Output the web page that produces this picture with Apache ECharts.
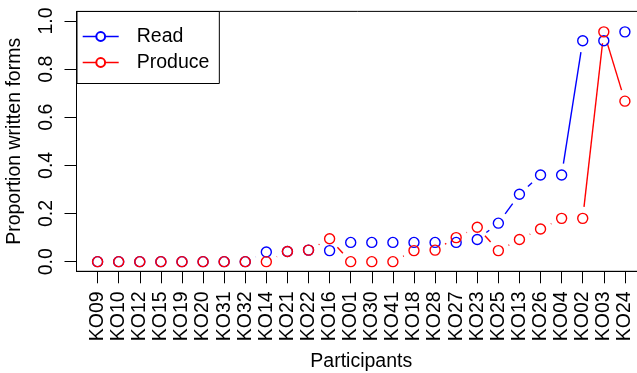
<!DOCTYPE html>
<html>
<head>
<meta charset="utf-8">
<script src="https://cdn.jsdelivr.net/npm/echarts@6/dist/echarts.min.js"></script>
<style>html,body{margin:0;padding:0;background:#fff;}#c{width:637px;height:373px;}</style>
</head>
<body>
<div id="c"></div>
<script>
const categories = ['KO09','KO10','KO12','KO15','KO19','KO20','KO31','KO32','KO14','KO21','KO22','KO16','KO01','KO30','KO41','KO18','KO28','KO27','KO23','KO25','KO13','KO26','KO04','KO02','KO03','KO24'];
const readValues = [0,0,0,0,0,0,0,0,0.04,0.042,0.048,0.046,0.08,0.08,0.08,0.08,0.08,0.08,0.092,0.16,0.28,0.36,0.36,0.918,0.918,0.955];
const produceValues = [0,0,0,0,0,0,0,0,0,0.042,0.048,0.095,0,0,0,0.046,0.048,0.1,0.143,0.046,0.092,0.136,0.18,0.18,0.955,0.667];
const yTicks = [0, 0.2, 0.4, 0.6, 0.8, 1.0];
const seriesNames = ['Read', 'Produce'];

const FONT = 'Liberation Sans';
const FS = 19.5;
const BLUE = '#0000FF', RED = '#FF0000';
const GAP = 11.5;

function pts(vals) { return vals.map((v, i) => [i, v]); }
function segs(vals) {
  const out = [];
  for (let i = 0; i < vals.length - 1; i++) out.push([i, vals[i], i + 1, vals[i + 1]]);
  return out;
}
function segRender(color) {
  return function (params, api) {
    const a = api.coord([api.value(0), api.value(1)]);
    const b = api.coord([api.value(2), api.value(3)]);
    const dx = b[0] - a[0], dy = b[1] - a[1];
    const len = Math.sqrt(dx * dx + dy * dy);
    if (len <= 2 * GAP) return null;
    const ux = dx / len, uy = dy / len;
    return {
      type: 'line',
      shape: { x1: a[0] + ux * GAP, y1: a[1] + uy * GAP, x2: b[0] - ux * GAP, y2: b[1] - uy * GAP },
      style: { stroke: color, lineWidth: 1.4, fill: null }
    };
  };
}
function pointSeries(name, vals, color) {
  return {
    name: name, type: 'line', data: pts(vals),
    symbol: 'circle', symbolSize: 10, showAllSymbol: true,
    itemStyle: { color: 'rgba(0,0,0,0)', borderColor: color, borderWidth: 1.4 },
    lineStyle: { color: color, width: 1.4, opacity: 0 },
    emphasis: { disabled: true }, animation: false
  };
}
function segSeries(vals, color) {
  return {
    type: 'custom', data: segs(vals), renderItem: segRender(color),
    encode: { x: [0, 2], y: [1, 3] }, animation: false, silent: true
  };
}

const chart = echarts.init(document.getElementById('c'), null, { renderer: 'canvas' });
chart.setOption({
  backgroundColor: '#fff',
  animation: false,
  textStyle: { fontFamily: FONT, color: '#000' },
  grid: { left: 76.5, top: 11.4, width: 569.5, height: 259.9, show: true, borderColor: '#000', borderWidth: 1, backgroundColor: 'transparent', outerBoundsMode: 'none', containLabel: false },
  xAxis: {
    type: 'value', min: -1, max: 26,
    name: 'Participants', nameLocation: 'middle', nameGap: 80.5,
    nameTextStyle: { fontFamily: FONT, fontSize: FS, color: '#000' },
    axisLine: { show: true, onZero: false, lineStyle: { color: '#000', width: 1 } },
    axisTick: { show: true, length: 12, lineStyle: { color: '#000', width: 1 }, customValues: categories.map((c, i) => i) },
    axisLabel: { show: true, rotate: 90, margin: 20, fontFamily: FONT, fontSize: FS, color: '#000',
      customValues: categories.map((c, i) => i), formatter: v => categories[Math.round(v)] || '' },
    splitLine: { show: false }
  },
  yAxis: {
    type: 'value', min: -0.04, max: 1.04,
    name: 'Proportion written forms', nameLocation: 'middle', nameGap: 51.5, nameRotate: 90,
    nameTextStyle: { fontFamily: FONT, fontSize: FS, color: '#000' },
    axisLine: { show: true, onZero: false, lineStyle: { color: '#000', width: 1 } },
    axisTick: { show: true, length: 12, lineStyle: { color: '#000', width: 1 }, customValues: yTicks },
    axisLabel: { show: true, rotate: 90, margin: 20, fontFamily: FONT, fontSize: FS, color: '#000',
      customValues: yTicks, formatter: v => v.toFixed(1) },
    splitLine: { show: false }
  },
  legend: {
    data: seriesNames,
    left: 77, top: 11.5, orient: 'vertical',
    itemWidth: 36, itemHeight: 11, itemGap: 6,
    padding: [15, 10, 11, 5],
    borderColor: '#000', borderWidth: 1, backgroundColor: '#fff',
    textStyle: { fontFamily: FONT, fontSize: FS, color: '#000', padding: [0, 0, 0, 13], lineHeight: 17 },
    lineStyle: { opacity: 1, width: 1.4 },
    itemStyle: { color: '#fff' },
    selectedMode: false
  },
  series: [
    segSeries(readValues, BLUE),
    pointSeries(seriesNames[0], readValues, BLUE),
    segSeries(produceValues, RED),
    pointSeries(seriesNames[1], produceValues, RED)
  ]
});
</script>
</body>
</html>
